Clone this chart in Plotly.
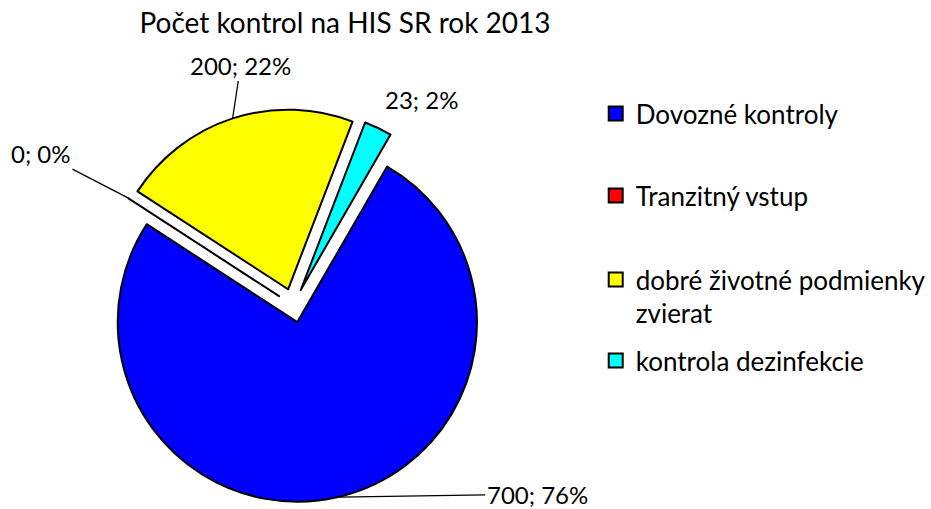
import math
import plotly.graph_objects as go

# ---------------- data ----------------
title_text = "Počet kontrol na HIS SR rok 2013"
categories = ["Dovozné kontroly", "Tranzitný vstup",
              "dobré životné podmienky zvierat", "kontrola dezinfekcie"]
legend_names = ["Dovozné kontroly", "Tranzitný vstup",
                "dobré životné podmienky<br>zvierat", "kontrola dezinfekcie"]
values = [700, 0, 200, 23]
colors = ["#0000FF", "#FF0000", "#FFFF00", "#00FFFF"]

# ---------------- layout / style ----------------
W, H = 931, 509
CX, CY = 294, 305.5      # pie centre (px)
R = 180                  # pie radius (px)
PULL = 0.095
ROT = 30
FONT = "Lato"
TITLE_SIZE = 28
LABEL_SIZE = 24
LEGEND_SIZE = 26
# label placement relative to slice mid-arc point (px, screen coords)
label_offsets = [(198, -3), (-87, -45), (8, -53), (43, -28)]
label_lines = [True, True, True, False]
legend_x_px = 597
legend_y_px = [114, 196, 280, 361]
legend_top_offset = 24

box = 2 * R * (1 + PULL)
dom_x = [(CX - box / 2) / W, (CX + box / 2) / W]
dom_y = [1 - (CY + box / 2) / H, 1 - (CY - box / 2) / H]

fig = go.Figure()
fig.add_trace(go.Pie(
    labels=categories, values=values, sort=False, direction="clockwise",
    rotation=ROT, pull=[PULL] * len(values), textinfo="none",
    marker=dict(colors=colors, line=dict(color="black", width=2)),
    domain=dict(x=dom_x, y=dom_y), showlegend=False, hoverinfo="label+value+percent",
))

# data labels with leader lines
total = sum(values)
cum = 0
annotations = []
for i, v in enumerate(values):
    a0 = ROT + 360 * cum / total
    a1 = ROT + 360 * (cum + v) / total
    cum += v
    mid = math.radians((a0 + a1) / 2)
    sx, sy = math.sin(mid), -math.cos(mid)
    pcx = CX + PULL * R * sx
    pcy = CY + PULL * R * sy
    px, py = pcx + R * sx, pcy + R * sy
    txt = f"{v}; {round(v / total * 100)}%"
    dx, dy = label_offsets[i]
    if label_lines[i]:
        annotations.append(dict(
            x=px / W, y=1 - py / H, xref="paper", yref="paper", text=txt,
            showarrow=True, arrowhead=0, arrowwidth=1.3, arrowcolor="black",
            ax=dx, ay=dy, font=dict(family=FONT, size=LABEL_SIZE, color="black"),
        ))
    else:
        annotations.append(dict(
            x=px / W, y=1 - py / H, xref="paper", yref="paper", text=txt,
            showarrow=False, xshift=dx, yshift=-dy,
            xanchor="center", yanchor="middle",
            font=dict(family=FONT, size=LABEL_SIZE, color="black"),
        ))

# legend entries (one legend per entry to reproduce the wide spacing)
legend_layouts = {}
for i, name in enumerate(legend_names):
    key = "legend" if i == 0 else f"legend{i + 1}"
    fig.add_trace(go.Scatter(
        x=[None], y=[None], mode="markers", name=name, legend=key,
        marker=dict(symbol="square", size=14, color=colors[i],
                    line=dict(color="black", width=2)),
    ))
    legend_layouts[key] = dict(
        x=legend_x_px / W, y=1 - (legend_y_px[i] - legend_top_offset) / H,
        xanchor="left", yanchor="top", valign="top",
        bgcolor="rgba(0,0,0,0)", font=dict(family=FONT, size=LEGEND_SIZE, color="black"),
    )

fig.update_layout(
    width=W, height=H, margin=dict(l=0, r=0, t=0, b=0),
    paper_bgcolor="white", plot_bgcolor="white",
    title=dict(text=title_text, x=345 / W, xanchor="center", y=1 - 23 / H,
               yanchor="middle", yref="container",
               font=dict(family=FONT, size=TITLE_SIZE, color="black")),
    xaxis=dict(visible=False), yaxis=dict(visible=False),
    annotations=annotations,
    **legend_layouts,
)

fig.write_html("out.html", config={"displayModeBar": False},
               post_script="document.body.style.margin='0px';")
